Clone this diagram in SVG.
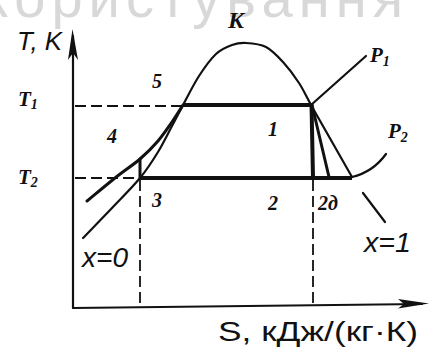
<svg xmlns="http://www.w3.org/2000/svg" width="432" height="349" viewBox="0 0 432 349">
<style>
.ln{fill:none;stroke:#111;stroke-width:2.2;stroke-linecap:round;stroke-linejoin:round}
.thk{fill:none;stroke:#111;stroke-width:4;stroke-linecap:butt}
.pr{fill:none;stroke:#111;stroke-width:3;stroke-linecap:round}
.dash{fill:none;stroke:#111;stroke-width:1.8;stroke-dasharray:11 5}
.lb{font-family:"Liberation Serif",serif;font-weight:bold;font-style:italic;fill:#111}
.dr{font-family:"Liberation Sans",sans-serif;font-style:italic;fill:#111}
.up{font-family:"Liberation Sans",sans-serif;font-style:normal;fill:#111}
.wm{font-family:"Liberation Sans",sans-serif;fill:#d8d8d8}
</style>
<rect width="432" height="349" fill="#fff"/>
<text class="wm" x="-17" y="17" font-size="56" textLength="420" lengthAdjust="spacing">користування</text>

<g id="axes">
<line class="ln" x1="73" y1="36" x2="73" y2="308"/>
<polygon points="72.5,29 68,60 73,53 78,60" fill="#111"/>
<line class="ln" x1="73" y1="308" x2="422" y2="304"/>
<polygon points="429,303.5 398,299 404,304 398,308.5" fill="#111"/>
</g>

<g id="dashes">
<line class="dash" x1="75" y1="106" x2="183" y2="106"/>
<line class="dash" x1="75" y1="178" x2="140" y2="178"/>
<line class="dash" x1="140" y1="180" x2="140" y2="307"/>
<line class="dash" x1="313" y1="180" x2="313" y2="307"/>
</g>

<g id="connectors">
<path id="dome" class="ln" d="M83,238 C87.8,233 102.5,218 112,208 C121.5,198 132.3,187.3 140,178 C147.7,168.7 152.7,160.7 158,152 C163.3,143.3 167.8,133.8 172,126 C176.2,118.2 178.5,113.3 183,105 C187.5,96.7 193.5,84.5 199,76 C204.5,67.5 210.5,59.2 216,54 C221.5,48.8 227,46.8 232,45 C237,43.2 240.3,42.7 246,43 C251.7,43.3 259.8,43.8 266,47 C272.2,50.2 277.5,56 283,62 C288.5,68 294.3,75.8 299,83 C303.7,90.2 305.7,95.3 311,105 L352,177"/>
<line class="ln" x1="363" y1="193" x2="385" y2="222"/>
<path id="isobarP1liq" class="pr" d="M87,201 C91.7,197.2 106.2,185 115,178 C123.8,171 132.8,165.2 140,159 C147.2,152.8 152.7,147.2 158,141 C163.3,134.8 167.8,128 172,122 C176.2,116 181.2,107.8 183,105"/>
<line class="pr" x1="140" y1="178" x2="140" y2="159"/>
<path class="ln" d="M311,105 Q340,79 366,56"/>
<path class="ln" d="M352,177 Q373,172 386,154"/>
<line class="thk" x1="183" y1="105" x2="313" y2="105"/>
<line class="thk" x1="140" y1="178" x2="352" y2="178" stroke-width="3.5"/>
<line class="thk" x1="311.5" y1="104" x2="313" y2="178"/>
<line class="pr" x1="312" y1="105" x2="329" y2="177" stroke-width="2.5"/>
</g>

<g id="labels">
<text class="dr" x="17" y="50" font-size="25" textLength="45" lengthAdjust="spacingAndGlyphs">T, K</text>
<text class="lb" x="18" y="106" font-size="21">T<tspan font-size="14" dy="3">1</tspan></text>
<text class="lb" x="18" y="184" font-size="21">T<tspan font-size="14" dy="3">2</tspan></text>
<text class="lb" x="228" y="28" font-size="24">K</text>
<text class="lb" x="370" y="62" font-size="21">P<tspan font-size="14" dy="4">1</tspan></text>
<text class="lb" x="388" y="138" font-size="21">P<tspan font-size="14" dy="4">2</tspan></text>
<text class="lb" x="152" y="88" font-size="20">5</text>
<text class="lb" x="107" y="143" font-size="20">4</text>
<text class="lb" x="268" y="136" font-size="20">1</text>
<text class="lb" x="152" y="207" font-size="20">3</text>
<text class="lb" x="268" y="210" font-size="20">2</text>
<text class="lb" x="318" y="210" font-size="20">2д</text>
<text class="dr" x="82" y="267" font-size="27" textLength="46" lengthAdjust="spacingAndGlyphs">x=0</text>
<text class="dr" x="364" y="252" font-size="27" textLength="47" lengthAdjust="spacingAndGlyphs">x=1</text>
<text class="up" x="218" y="341" font-size="27" textLength="200" lengthAdjust="spacingAndGlyphs">S, кДж/(кг·К)</text>
</g>
</svg>
